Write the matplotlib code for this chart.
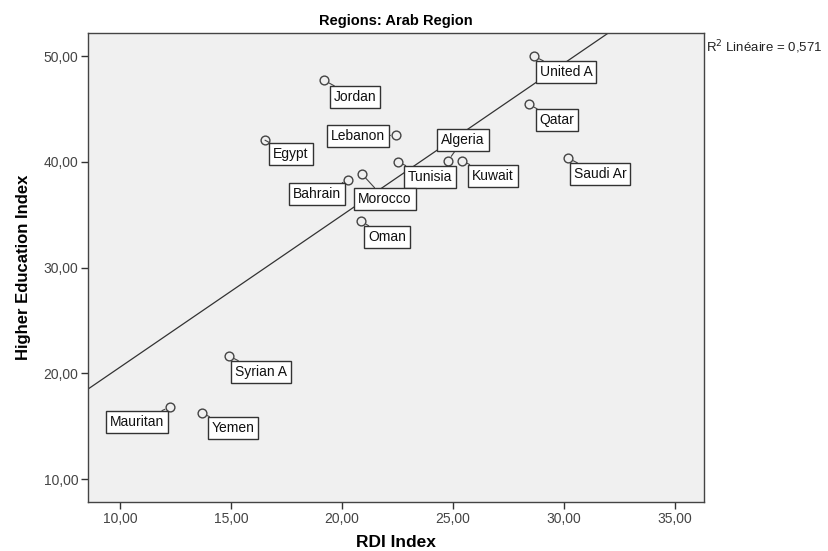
import numpy as np
import matplotlib
matplotlib.use("Agg")
import matplotlib.pyplot as plt

plt.rcParams["font.family"] = ["Liberation Sans", "DejaVu Sans"]

# RDI vs higher education, Arab region
pays = ["United A", "Qatar", "Saudi Ar", "Jordan", "Lebanon", "Egypt",
        "Algeria", "Kuwait", "Tunisia", "Bahrain", "Morocco", "Oman",
        "Syrian A", "Mauritan", "Yemen"]
rdi = [28.65, 28.42, 30.18, 19.19, 22.43, 16.53,
       24.77, 25.41, 22.52, 20.27, 20.90, 20.86,
       14.91, 12.25, 13.69]
hei = [50.00, 45.46, 40.36, 47.73, 42.53, 42.06,
       40.10, 40.10, 40.00, 38.28, 38.85, 34.40,
       21.64, 16.82, 16.25]

# position des étiquettes (décalage en pixels, x droite / y bas)
decal = {"United A": (32, 16), "Qatar": (28, 16), "Saudi Ar": (32, 16),
         "Jordan": (31, 17), "Lebanon": (-38, 1), "Egypt": (26, 14),
         "Algeria": (15, -21), "Kuwait": (31, 15), "Tunisia": (32, 15),
         "Bahrain": (-31, 14), "Morocco": (23, 25), "Oman": (26, 16),
         "Syrian A": (32, 16), "Mauritan": (-33, 15), "Yemen": (31, 15)}

x = np.array(rdi)
y = np.array(hei)
pente, orig = np.polyfit(x, y, 1)
r2 = np.corrcoef(x, y)[0, 1] ** 2

fig = plt.figure(figsize=(8.29, 5.51), dpi=100)
ax = fig.add_axes([0.1062, 0.0889, 0.743, 0.8512])
ax.set_facecolor("#f0f0f0")

ax.set_xlim(8.56, 36.3)
ax.set_ylim(7.83, 52.2)

# droite de régression
xx = np.array([0, 50])
ax.plot(xx, orig + pente * xx, color="#333333", lw=0.9, zorder=2)

ax.scatter(x, y, s=40, facecolors="#f0f0f0", edgecolors="#444444",
           linewidths=1.0, zorder=4)

pt = 72 / 100  # pixels -> points
for nom, xi, yi in zip(pays, x, y):
    dx, dy = decal[nom]
    ax.annotate(nom, xy=(xi, yi), xytext=(dx * pt, -dy * pt),
                textcoords="offset points", ha="center", va="center",
                fontsize=10, color="#111111", zorder=5,
                bbox=dict(boxstyle="square,pad=0.28", fc="white",
                          ec="#333333", lw=1.0),
                arrowprops=dict(arrowstyle="-", color="#444444", lw=0.8,
                                shrinkA=0, shrinkB=4))

ax.set_xticks([10, 15, 20, 25, 30, 35])
ax.set_yticks([10, 20, 30, 40, 50])
ax.set_xticklabels(["10,00", "15,00", "20,00", "25,00", "30,00", "35,00"])
ax.set_yticklabels(["10,00", "20,00", "30,00", "40,00", "50,00"])
ax.tick_params(direction="out", length=5, width=1, color="#333333",
               labelsize=10, labelcolor="#444444", pad=2)
for s in ax.spines.values():
    s.set_color("#444444")
    s.set_linewidth(1.0)

ax.set_xlabel("RDI Index", fontsize=12.5, fontweight="bold", labelpad=7)
ax.set_ylabel("Higher Education Index", fontsize=12, fontweight="bold",
              labelpad=9)
ax.set_title("Regions: Arab Region", fontsize=10.5, fontweight="bold", pad=6)

fig.text(0.852, 0.915, "R$^2$ Linéaire = " + f"{r2:.3f}".replace(".", ","),
         fontsize=9.5, color="#222222", ha="left", va="center")

fig.savefig("out.png", dpi=100)
